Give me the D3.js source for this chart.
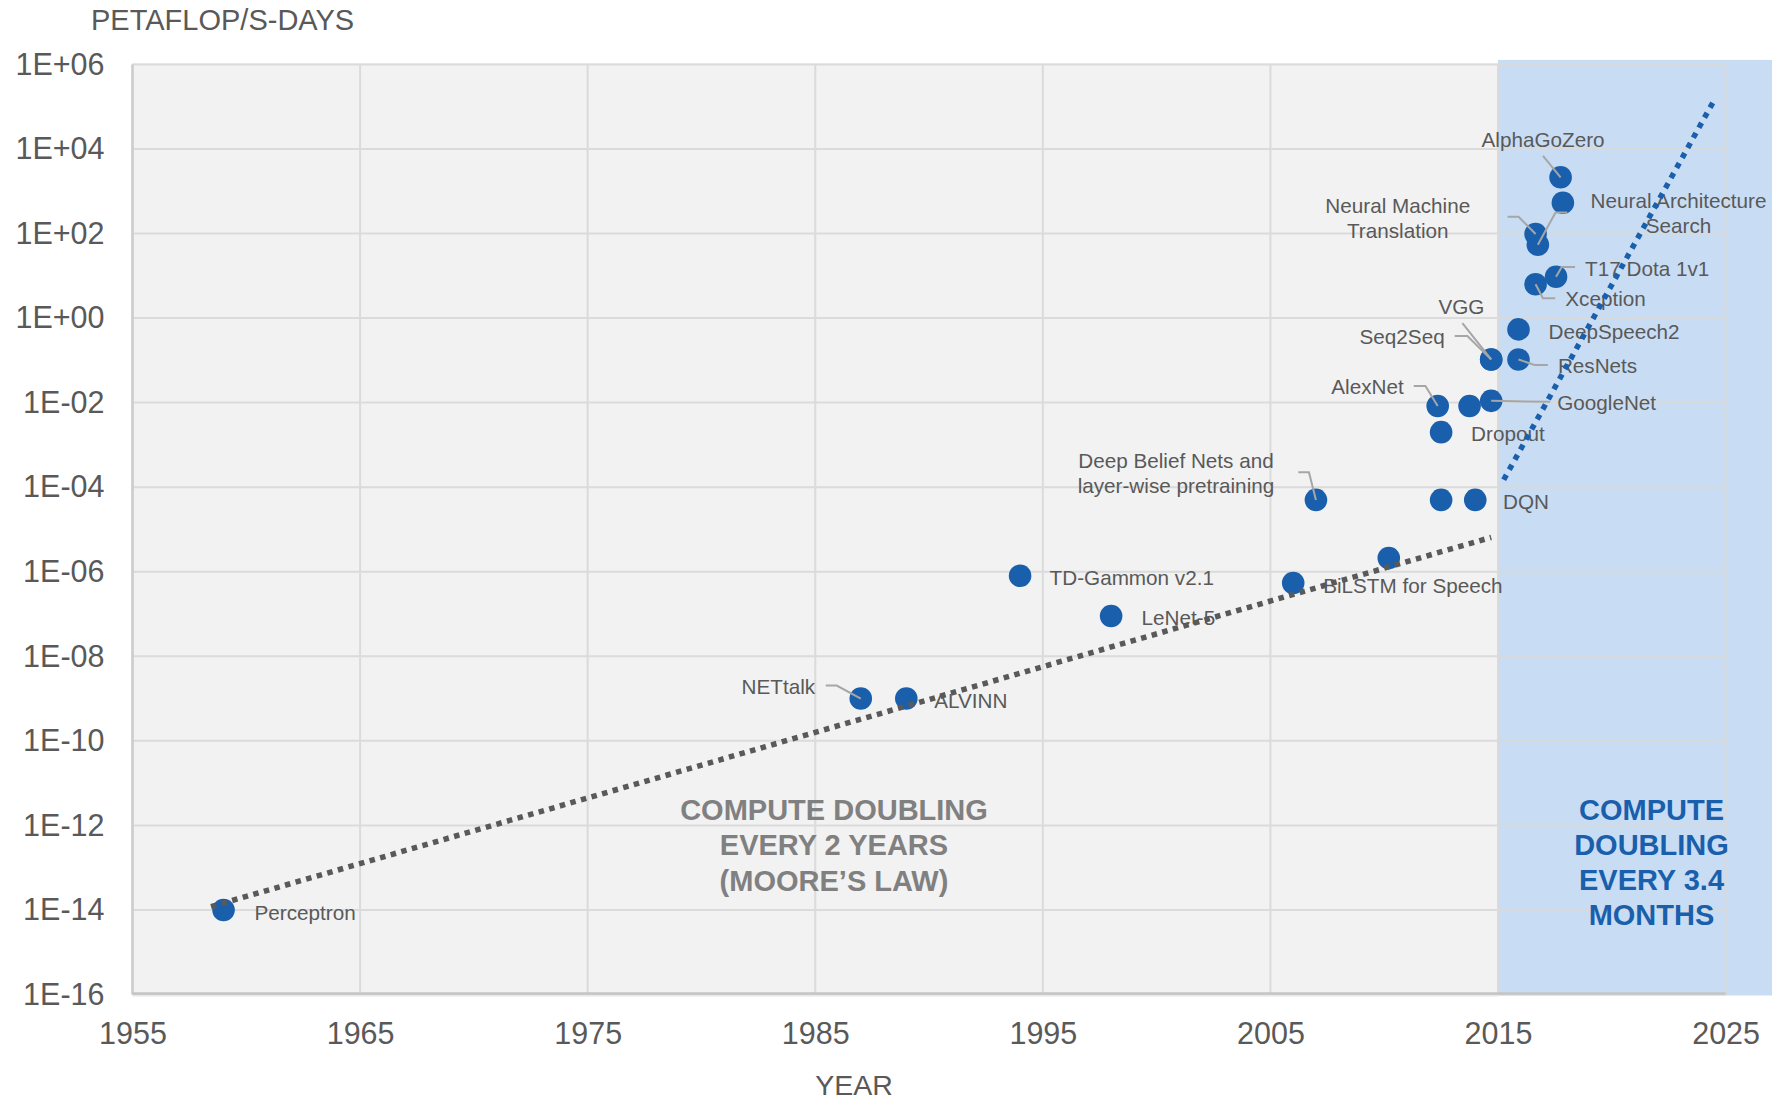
<!DOCTYPE html>
<html>
<head>
<meta charset="utf-8">
<script src="https://cdn.jsdelivr.net/npm/d3@7"></script>
<style>
  body { margin: 0; background: #fff; }
  svg { display: block; }
  text { font-family: "Liberation Sans", Arial, sans-serif; }
</style>
</head>
<body>
<svg id="chart" width="1772" height="1099"></svg>
<script>
// ---- data -------------------------------------------------------------
const modelNames = [
  "Perceptron", "NETtalk", "ALVINN", "TD-Gammon v2.1", "LeNet-5",
  "BiLSTM for Speech", "", "Deep Belief Nets and\nlayer-wise pretraining",
  "", "DQN", "AlexNet", "", "GoogleNet", "Dropout", "VGG", "Seq2Seq",
  "ResNets", "DeepSpeech2", "Xception", "T17 Dota 1v1",
  "Neural Machine\nTranslation", "Neural Architecture\nSearch", "", "AlphaGoZero"
];
const modelYears = [
  1959, 1987, 1989, 1994, 1998,
  2006, 2010.2, 2007,
  2012.5, 2014, 2012.35, 2013.75, 2014.7, 2012.5, 2014.7, 2014.7,
  2015.9, 2015.9, 2016.65, 2017.55,
  2016.65, 2016.75, 2017.85, 2017.75
];
const modelCompute = [
  1e-14, 1e-9, 1e-9, 8e-7, 9e-8,
  5.4e-7, 2.1e-6, 5e-5,
  5e-5, 5e-5, 8.3e-3, 8.3e-3, 1.1e-2, 2e-3, 0.105, 0.105,
  0.105, 0.54, 6.3, 9.5,
  97, 54, 535, 2140
];

// two-year doubling trend (first era) and 3.4-month doubling trend (modern era)
const mooreYears = [1958.45, 2014.7];
const mooreCompute = [1.2e-14, 6.5e-6];
const modernYears = [2015.25, 2024.55];
const modernCompute = [1.5e-4, 1.6e5];

const modernEraStart = 2015;

const xTicks = [1955, 1965, 1975, 1985, 1995, 2005, 2015, 2025];
const xTickLabels = ["1955", "1965", "1975", "1985", "1995", "2005", "2015", "2025"];
const yTicks = [1e-16, 1e-14, 1e-12, 1e-10, 1e-8, 1e-6, 1e-4, 1e-2, 1e0, 1e2, 1e4, 1e6];
const yTickLabels = ["1E-16", "1E-14", "1E-12", "1E-10", "1E-08", "1E-06",
                     "1E-04", "1E-02", "1E+00", "1E+02", "1E+04", "1E+06"];

const yTitle = "PETAFLOP/S-DAYS";
const xTitle = "YEAR";
const mooreNote = ["COMPUTE DOUBLING", "EVERY 2 YEARS", "(MOORE\u2019S LAW)"];
const modernNote = ["COMPUTE", "DOUBLING", "EVERY 3.4", "MONTHS"];

// ---- label placement (pixel offsets from each point) ------------------
const labelLayout = {
  "Perceptron": { dx: 31, dy: 3 },
  "NETtalk": { dx: -45.6, dy: -11.6, anchor: "end", leader: [[-35, -13], [-24, -13], [0, 0]] },
  "ALVINN": { dx: 28, dy: 2 },
  "TD-Gammon v2.1": { dx: 29.5, dy: 1.6 },
  "LeNet-5": { dx: 30.5, dy: 1.6 },
  "BiLSTM for Speech": { dx: 30, dy: 3 },
  "Deep Belief Nets and\nlayer-wise pretraining": { dx: -140, dy: -39, anchor: "middle", leader: [[-17.6, -27.6], [-7, -27.6], [0, 0]] },
  "DQN": { dx: 27.7, dy: 1.7 },
  "AlexNet": { dx: -34, dy: -19, anchor: "end", leader: [[-24, -20], [-12.3, -20], [0, 0]] },
  "GoogleNet": { dx: 66, dy: 1.6, leader: [[0, 0], [59, 1]] },
  "Dropout": { dx: 30, dy: 1.6 },
  "VGG": { dx: -29.7, dy: -52.8, anchor: "middle", leader: [[-28.8, -36.2], [0, 0]] },
  "Seq2Seq": { dx: -46.5, dy: -22.2, anchor: "end", leader: [[-36.5, -23.5], [-23.8, -23.5], [0, 0]] },
  "ResNets": { dx: 39.4, dy: 6.5, leader: [[0, 0], [16, 5.5], [29.4, 5.5]] },
  "DeepSpeech2": { dx: 30, dy: 2.2 },
  "Xception": { dx: 29.7, dy: 14, leader: [[0, 0], [7.4, 14], [19.7, 14]] },
  "T17 Dota 1v1": { dx: 29, dy: -8.4, leader: [[0, 0], [5.7, -9.7], [19, -9.7]] },
  "Neural Machine\nTranslation": { dx: -137.8, dy: -28.3, anchor: "middle", leader: [[-28, -17.3], [-17, -17.3], [0, 0]] },
  "Neural Architecture\nSearch": { dx: 140.7, dy: -44, anchor: "middle", leader: [[0, 0], [17.7, -32.3], [29.4, -32.3]] },
  "AlphaGoZero": { dx: -17.5, dy: -37.3, anchor: "middle", leader: [[-17.6, -21.3], [0, 0]] }
};

// ---- chart ------------------------------------------------------------
const svg = d3.select("#chart");
const plot = { left: 132.5, right: 1725.6, top: 64.4, bottom: 994.5 };

const x = d3.scaleLinear().domain([1955, 2025]).range([plot.left, plot.right]);
const y = d3.scaleLog().domain([1e-16, 1e6]).range([plot.bottom, plot.top]);

const points = modelNames.map((name, i) => ({ name, year: modelYears[i], value: modelCompute[i] }));

const labelColor = "#595959";
const pointColor = "#1a5fac";
const gridColor = "#d9d9d9";

// plot background, with the modern era shaded blue out to the page edge
svg.append("rect")
  .attr("x", plot.left).attr("y", plot.top - 1.5)
  .attr("width", x(modernEraStart) - plot.left)
  .attr("height", plot.bottom - plot.top + 4)
  .attr("fill", "#f2f2f2");
svg.append("rect")
  .attr("x", x(modernEraStart)).attr("y", plot.top - 4.5)
  .attr("width", 1772 - x(modernEraStart))
  .attr("height", plot.bottom - plot.top + 5.5)
  .attr("fill", "#c8ddf4");

// gridlines
const grid = svg.append("g").attr("stroke", gridColor).attr("stroke-width", 2).attr("opacity", 0.9);
grid.selectAll("line.h").data(yTicks).join("line")
  .attr("x1", plot.left).attr("x2", plot.right)
  .attr("y1", d => y(d)).attr("y2", d => y(d));
grid.selectAll("line.v").data(xTicks).join("line")
  .attr("x1", d => x(d)).attr("x2", d => x(d))
  .attr("y1", plot.top).attr("y2", plot.bottom);

// axis lines
svg.append("line").attr("x1", plot.left).attr("x2", plot.left)
  .attr("y1", plot.top).attr("y2", plot.bottom)
  .attr("stroke", "#cccccc").attr("stroke-width", 2.5);
svg.append("line").attr("x1", plot.left).attr("x2", plot.right)
  .attr("y1", plot.bottom - 1).attr("y2", plot.bottom - 1)
  .attr("stroke", "#c4c4c4").attr("stroke-width", 2.5);

// axes (labels only)
const yAxis = svg.append("g").attr("transform", `translate(${plot.left},0)`)
  .call(d3.axisLeft(y).tickValues(yTicks).tickFormat((d, i) => yTickLabels[i])
    .tickSize(0).tickPadding(28));
const xAxis = svg.append("g").attr("transform", `translate(0,${plot.bottom})`)
  .call(d3.axisBottom(x).tickValues(xTicks).tickFormat((d, i) => xTickLabels[i])
    .tickSize(0).tickPadding(28));
[yAxis, xAxis].forEach(a => {
  a.select(".domain").remove();
  a.selectAll("text").attr("fill", labelColor).style("font-size", "30.5px")
    .style("font-family", "'Liberation Sans', Arial, sans-serif");
});

// axis titles
svg.append("text").attr("x", 91).attr("y", 30).attr("fill", labelColor)
  .style("font-size", "29px").text(yTitle);
svg.append("text").attr("x", 854).attr("y", 1095).attr("text-anchor", "middle")
  .attr("fill", labelColor).style("font-size", "28.5px").text(xTitle);

// points
svg.append("g").selectAll("circle").data(points).join("circle")
  .attr("cx", d => x(d.year)).attr("cy", d => y(d.value))
  .attr("r", 11.3).attr("fill", pointColor);

// leader lines
const labelled = points.filter(d => d.name && labelLayout[d.name]);
svg.append("g").selectAll("polyline")
  .data(labelled.filter(d => labelLayout[d.name].leader)).join("polyline")
  .attr("points", d => labelLayout[d.name].leader
    .map(([dx, dy]) => `${x(d.year) + dx},${y(d.value) + dy}`).join(" "))
  .attr("fill", "none").attr("stroke", "#a6a6a6").attr("stroke-width", 2);

// point labels
const labelSize = 20.7;
const lineGap = 25;
const labels = svg.append("g").selectAll("text").data(labelled).join("text")
  .attr("text-anchor", d => labelLayout[d.name].anchor || "start")
  .attr("fill", labelColor)
  .style("font-size", labelSize + "px");
labels.each(function (d) {
  const L = labelLayout[d.name];
  const px = x(d.year) + L.dx;
  const py = y(d.value) + L.dy + labelSize * 0.35;
  d3.select(this).selectAll("tspan").data(d.name.split("\n")).join("tspan")
    .attr("x", px).attr("y", (t, i) => py + i * lineGap).text(t => t);
});

// trend lines
const trend = d3.line().x(d => x(d[0])).y(d => y(d[1]));
svg.append("path")
  .attr("d", trend(mooreYears.map((yr, i) => [yr, mooreCompute[i]])))
  .attr("fill", "none").attr("stroke", "#595959")
  .attr("stroke-width", 5.5).attr("stroke-dasharray", "5.5,5.5");
svg.append("path")
  .attr("d", trend(modernYears.map((yr, i) => [yr, modernCompute[i]])))
  .attr("fill", "none").attr("stroke", pointColor)
  .attr("stroke-width", 5.5).attr("stroke-dasharray", "5.5,6");

// era notes
svg.append("text").attr("text-anchor", "middle").attr("fill", "#808080")
  .style("font-size", "29px").style("font-weight", "bold")
  .selectAll("tspan").data(mooreNote).join("tspan")
  .attr("x", 834).attr("y", (t, i) => 820 + i * 35.3).text(t => t);
svg.append("text").attr("text-anchor", "middle").attr("fill", pointColor)
  .style("font-size", "29px").style("font-weight", "bold")
  .selectAll("tspan").data(modernNote).join("tspan")
  .attr("x", 1651.5).attr("y", (t, i) => 820 + i * 35.1).text(t => t);
</script>
</body>
</html>
